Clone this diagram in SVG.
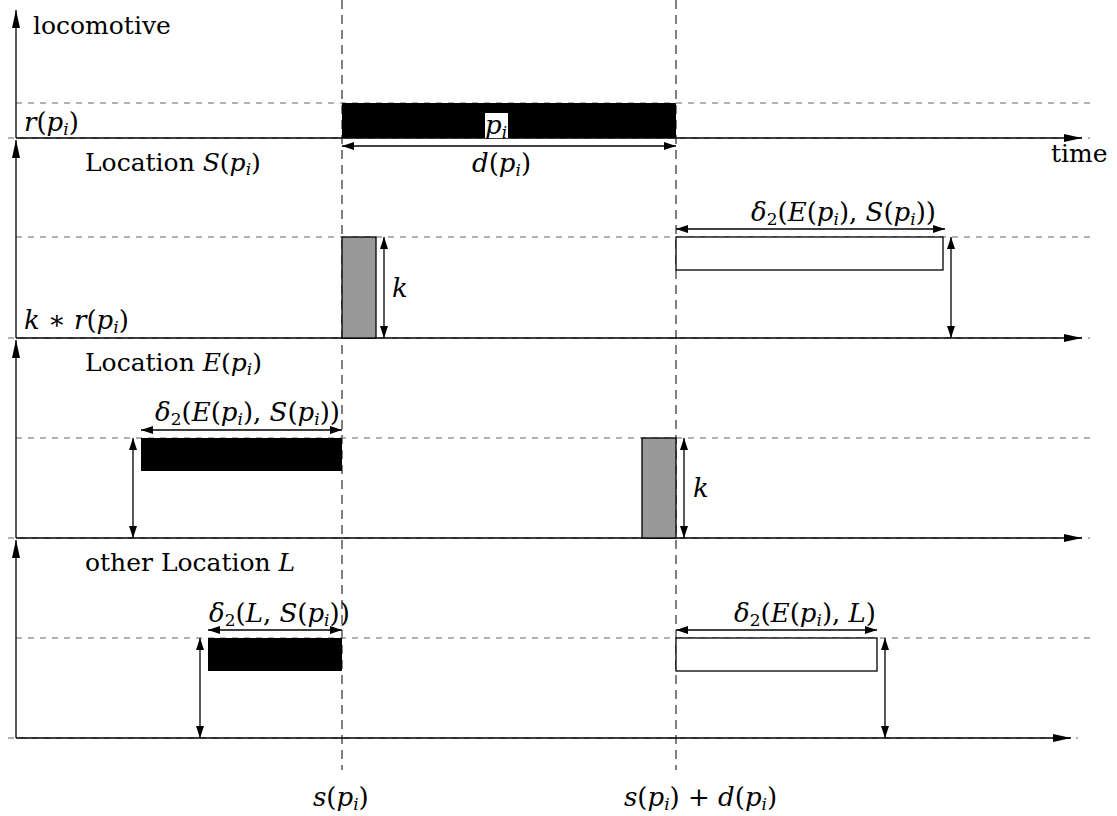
<svg xmlns="http://www.w3.org/2000/svg" width="1117" height="816" viewBox="0 0 1117 816">
<style>
.ax{stroke:#000;stroke-width:1.3;fill:none}
.dh{stroke:#666;stroke-width:1.2;stroke-dasharray:6 6;fill:none}
.dv{stroke:#000;stroke-width:1;stroke-dasharray:9 6;fill:none}
.ar{stroke:#000;stroke-width:1.3;fill:none;marker-start:url(#ah);marker-end:url(#ah)}
.t{font-family:"DejaVu Serif","Liberation Serif",serif;font-size:25px;fill:#000}
.m{font-family:"DejaVu Serif","Liberation Serif",serif;font-style:italic;font-size:26px;fill:#000}
.sub{font-size:17px}
</style>
<defs>
<marker id="ah" viewBox="0 0 12 8" refX="12" refY="4" markerWidth="12" markerHeight="8" markerUnits="userSpaceOnUse" orient="auto-start-reverse">
<path d="M0,0 L12,4 L0,8 Z" fill="#000"/>
</marker>
<marker id="ax" viewBox="0 0 18 8" refX="18" refY="4" markerWidth="18" markerHeight="8" markerUnits="userSpaceOnUse" orient="auto">
<path d="M0,0 L18,4 L0,8 Z" fill="#000"/>
</marker>
</defs>

<g id="grid">
<line class="dv" x1="342" y1="0" x2="342" y2="770"/>
<line class="dv" x1="676" y1="0" x2="676" y2="770"/>
<line class="dh" x1="16" y1="103" x2="1090" y2="103"/>
<line class="dh" x1="8" y1="138" x2="1090" y2="138"/>
<line class="dh" x1="16" y1="237" x2="1090" y2="237"/>
<line class="dh" x1="8" y1="338" x2="1090" y2="338"/>
<line class="dh" x1="16" y1="438" x2="1090" y2="438"/>
<line class="dh" x1="8" y1="538" x2="1090" y2="538"/>
<line class="dh" x1="16" y1="638" x2="1090" y2="638"/>
<line class="dh" x1="8" y1="738" x2="1078" y2="738"/>
</g>

<g id="axes">
<line class="ax" x1="16" y1="138" x2="16" y2="10" marker-end="url(#ax)"/>
<line class="ax" x1="16" y1="138" x2="1082" y2="138" marker-end="url(#ax)"/>
<line class="ax" x1="16" y1="338" x2="16" y2="140" marker-end="url(#ax)"/>
<line class="ax" x1="16" y1="338" x2="1082" y2="338" marker-end="url(#ax)"/>
<line class="ax" x1="16" y1="538" x2="16" y2="340" marker-end="url(#ax)"/>
<line class="ax" x1="16" y1="538" x2="1082" y2="538" marker-end="url(#ax)"/>
<line class="ax" x1="16" y1="738" x2="16" y2="540" marker-end="url(#ax)"/>
<line class="ax" x1="16" y1="738" x2="1071" y2="738" marker-end="url(#ax)"/>
</g>

<g id="locomotive">
<text class="t" x="33" y="34">locomotive</text>
<text class="m" x="24" y="131">r<tspan font-style="normal">(</tspan>p<tspan class="sub" dy="4">i</tspan><tspan font-style="normal" dy="-4">)</tspan></text>
<rect x="342" y="103" width="334" height="35" fill="#000"/>
<rect x="485" y="113" width="23" height="25" fill="#fff"/>
<text class="m" x="485" y="134">p<tspan class="sub" dy="4">i</tspan></text>
<line class="ar" x1="342" y1="146" x2="676" y2="146"/>
<text class="m" x="472" y="172">d<tspan font-style="normal">(</tspan>p<tspan class="sub" dy="4">i</tspan><tspan font-style="normal" dy="-4">)</tspan></text>
<text class="t" x="1051" y="162">time</text>
</g>

<g id="locationS">
<text class="t" x="85" y="171">Location <tspan font-style="italic">S</tspan>(<tspan font-style="italic">p</tspan><tspan class="sub" font-style="italic" dy="4">i</tspan><tspan dy="-4">)</tspan></text>
<text class="m" x="24" y="329">k ∗ r<tspan font-style="normal">(</tspan>p<tspan class="sub" dy="4">i</tspan><tspan font-style="normal" dy="-4">)</tspan></text>
<rect x="342" y="237" width="34" height="101" fill="#999" stroke="#000" stroke-width="1.3"/>
<line class="ar" x1="384" y1="237" x2="384" y2="338"/>
<text class="m" x="392" y="297">k</text>
<rect x="676" y="237" width="267" height="33" fill="#fff" stroke="#000" stroke-width="1.3"/>
<line class="ar" x1="676" y1="229" x2="945" y2="229"/>
<text class="m" x="751" y="221">δ<tspan class="sub" font-style="normal" dy="4">2</tspan><tspan font-style="normal" dy="-4">(</tspan>E<tspan font-style="normal">(</tspan>p<tspan class="sub" dy="4">i</tspan><tspan font-style="normal" dy="-4">), </tspan>S<tspan font-style="normal">(</tspan>p<tspan class="sub" dy="4">i</tspan><tspan font-style="normal" dy="-4">))</tspan></text>
<line class="ar" x1="951" y1="237" x2="951" y2="338"/>
</g>

<g id="locationE">
<text class="t" x="85" y="371">Location <tspan font-style="italic">E</tspan>(<tspan font-style="italic">p</tspan><tspan class="sub" font-style="italic" dy="4">i</tspan><tspan dy="-4">)</tspan></text>
<rect x="141" y="438" width="201" height="33" fill="#000"/>
<line class="ar" x1="141" y1="430" x2="342" y2="430"/>
<text class="m" x="155" y="421">δ<tspan class="sub" font-style="normal" dy="4">2</tspan><tspan font-style="normal" dy="-4">(</tspan>E<tspan font-style="normal">(</tspan>p<tspan class="sub" dy="4">i</tspan><tspan font-style="normal" dy="-4">), </tspan>S<tspan font-style="normal">(</tspan>p<tspan class="sub" dy="4">i</tspan><tspan font-style="normal" dy="-4">))</tspan></text>
<line class="ar" x1="133" y1="438" x2="133" y2="538"/>
<rect x="642" y="438" width="34" height="100" fill="#999" stroke="#000" stroke-width="1.3"/>
<line class="ar" x1="684" y1="438" x2="684" y2="538"/>
<text class="m" x="693" y="497">k</text>
</g>

<g id="locationL">
<text class="t" x="85" y="571">other Location <tspan font-style="italic">L</tspan></text>
<rect x="208" y="638" width="134" height="33" fill="#000"/>
<line class="ar" x1="208" y1="630" x2="342" y2="630"/>
<text class="m" x="209" y="622">δ<tspan class="sub" font-style="normal" dy="4">2</tspan><tspan font-style="normal" dy="-4">(</tspan>L<tspan font-style="normal">, </tspan>S<tspan font-style="normal">(</tspan>p<tspan class="sub" dy="4">i</tspan><tspan font-style="normal" dy="-4">))</tspan></text>
<line class="ar" x1="200" y1="638" x2="200" y2="738"/>
<rect x="676" y="638" width="201" height="33" fill="#fff" stroke="#000" stroke-width="1.3"/>
<line class="ar" x1="676" y1="630" x2="877" y2="630"/>
<text class="m" x="734" y="622">δ<tspan class="sub" font-style="normal" dy="4">2</tspan><tspan font-style="normal" dy="-4">(</tspan>E<tspan font-style="normal">(</tspan>p<tspan class="sub" dy="4">i</tspan><tspan font-style="normal" dy="-4">), </tspan>L<tspan font-style="normal">)</tspan></text>
<line class="ar" x1="885" y1="638" x2="885" y2="738"/>
</g>

<g id="timeLabels">
<text class="m" x="313" y="806">s<tspan font-style="normal">(</tspan>p<tspan class="sub" dy="4">i</tspan><tspan font-style="normal" dy="-4">)</tspan></text>
<text class="m" x="624" y="806">s<tspan font-style="normal">(</tspan>p<tspan class="sub" dy="4">i</tspan><tspan font-style="normal" dy="-4">) + </tspan>d<tspan font-style="normal">(</tspan>p<tspan class="sub" dy="4">i</tspan><tspan font-style="normal" dy="-4">)</tspan></text>
</g>
</svg>
